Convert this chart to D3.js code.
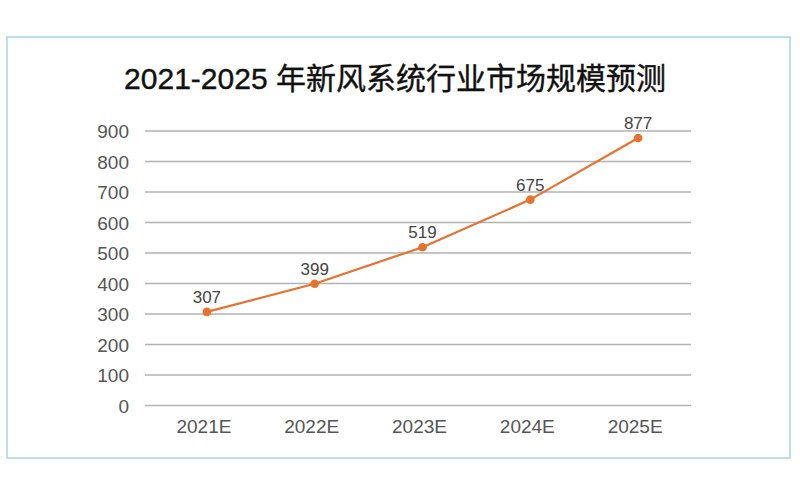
<!DOCTYPE html>
<html>
<head>
<meta charset="utf-8">
<script src="https://cdn.jsdelivr.net/npm/d3@7"></script>
<style>
  html, body { margin: 0; padding: 0; background: #fff; }
  svg { display: block; }
</style>
</head>
<body>
<svg id="chart" width="800" height="500"></svg>
<script>
const title = "2021-2025 年新风系统行业市场规模预测";
const categories = ["2021E", "2022E", "2023E", "2024E", "2025E"];
const values = [307, 399, 519, 675, 877];
const yTicks = [0, 100, 200, 300, 400, 500, 600, 700, 800, 900];

const svg = d3.select("#chart");
const font = "'Liberation Sans', Arial, 'Noto Sans CJK SC', sans-serif";

// frame
svg.append("rect")
  .attr("x", 7).attr("y", 37).attr("width", 783).attr("height", 421)
  .attr("fill", "#fff").attr("stroke", "#a6d4ec").attr("stroke-width", 1.5);

// title
svg.append("text")
  .attr("x", 395).attr("y", 89)
  .attr("text-anchor", "middle")
  .attr("font-family", "'Liberation Sans', 'Noto Sans CJK SC', sans-serif")
  .attr("font-size", 30)
  .attr("font-weight", 400)
  .attr("fill", "#111")
  .attr("stroke", "#111").attr("stroke-width", 0.4)
  .text(title);

const x = d3.scaleBand().domain(categories).range([153, 692]);
const y = d3.scaleLinear().domain([0, 900]).range([405.5, 131]);

// gridlines
svg.append("g").selectAll("line").data(yTicks).join("line")
  .attr("x1", 145).attr("x2", 691)
  .attr("y1", d => y(d)).attr("y2", d => y(d))
  .attr("stroke", "#b2b2b2").attr("stroke-width", 1.7);

// y axis labels
const yAxis = d3.axisLeft(y).tickValues(yTicks).tickSize(0).tickPadding(0);
const gy = svg.append("g").attr("transform", "translate(129,0)").call(yAxis);
gy.select(".domain").remove();
gy.selectAll("text")
  .attr("font-family", font).attr("font-size", 19).attr("fill", "#555")
  .attr("dy", "0.35em");

// x axis labels
const xAxis = d3.axisBottom(x).tickSize(0).tickPadding(0);
const gx = svg.append("g").attr("transform", "translate(-3,433)").call(xAxis);
gx.select(".domain").remove();
gx.selectAll("text")
  .attr("font-family", font).attr("font-size", 19).attr("fill", "#555")
  .attr("dy", 0).attr("y", 0);

const cx = d => x(d) + x.bandwidth() / 2;
const data = categories.map((c, i) => ({ c, v: values[i] }));

// line
const line = d3.line().x(d => cx(d.c)).y(d => y(d.v));
svg.append("path").datum(data)
  .attr("d", line)
  .attr("fill", "none")
  .attr("stroke", "#e8712d")
  .attr("stroke-width", 2.2);

// points
svg.append("g").selectAll("circle").data(data).join("circle")
  .attr("cx", d => cx(d.c)).attr("cy", d => y(d.v))
  .attr("r", 4.3).attr("fill", "#e8712d");

// labels
svg.append("g").selectAll("text").data(data).join("text")
  .attr("x", d => cx(d.c)).attr("y", d => y(d.v) - 9)
  .attr("text-anchor", "middle")
  .attr("font-family", font).attr("font-size", 17).attr("fill", "#444")
  .text(d => d.v);
</script>
</body>
</html>
